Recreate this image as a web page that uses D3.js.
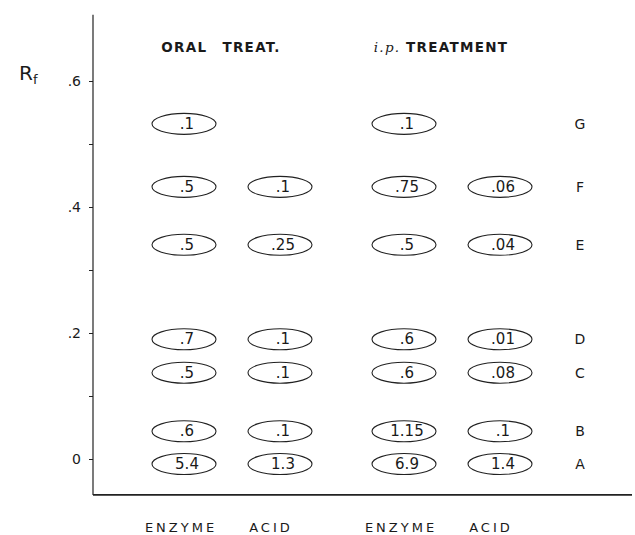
<html>
  <head>
    <script src="https://d3js.org/d3.v7.min.js"></script>
    <style>
      body { margin: 0; background: white; }
      text { font-family: "DejaVu Sans", sans-serif; fill: #1a1a1a; }
    </style>
  </head>
  <body>
    <svg id="chart" width="635" height="535"></svg>
    <script>
      // data
      const groups = ["ORAL TREAT.", "i.p. TREATMENT"];
      const methods = ["ENZYME", "ACID"];
      const rows = ["A", "B", "C", "D", "E", "F", "G"];
      const rowRf = [-0.008, 0.044, 0.137, 0.19, 0.34, 0.432, 0.532];
      const oralEnzyme = ["5.4", ".6", ".5", ".7", ".5", ".5", ".1"];
      const oralAcid = ["1.3", ".1", ".1", ".1", ".25", ".1", null];
      const ipEnzyme = ["6.9", "1.15", ".6", ".6", ".5", ".75", ".1"];
      const ipAcid = ["1.4", ".1", ".08", ".01", ".04", ".06", null];
      const tickVals = [0, 0.1, 0.2, 0.3, 0.4, 0.5, 0.6];
      const axisRange = [-0.057, 0.705];

      const svg = d3.select("#chart");

      const y = d3.scaleLinear().domain([0, 0.6]).range([459, 81]);
      const gx = d3.scaleBand().domain(groups).range([122, 562]);
      const mx = d3.scalePoint().domain(methods).range([62, 158]);
      const colX = (g, m) => gx(g) + mx(m);

      const columns = [
        { g: groups[0], m: "ENZYME", vals: oralEnzyme },
        { g: groups[0], m: "ACID", vals: oralAcid },
        { g: groups[1], m: "ENZYME", vals: ipEnzyme },
        { g: groups[1], m: "ACID", vals: ipAcid },
      ];

      // axes
      const axisX = 93;
      const yAxis = svg.append("g")
        .attr("transform", "translate(" + axisX + ",0)")
        .call(d3.axisLeft(y).tickValues(tickVals).tickSize(4).tickPadding(8)
          .tickFormat((d) => (Math.round(d * 10) % 2 === 0 ? (d === 0 ? "0" : "." + Math.round(d * 10)) : "")));
      yAxis.select(".domain").remove();
      yAxis.selectAll("text")
        .style("font-family", "DejaVu Sans")
        .style("font-size", "14px")
        .attr("fill", "#1a1a1a");
      yAxis.selectAll("line").attr("stroke", "#222");

      svg.append("line")
        .attr("x1", axisX).attr("x2", axisX)
        .attr("y1", y(axisRange[0])).attr("y2", y(axisRange[1]))
        .attr("stroke", "#222").attr("stroke-width", 1.2);
      svg.append("line")
        .attr("x1", axisX).attr("x2", 632)
        .attr("y1", y(axisRange[0])).attr("y2", y(axisRange[0]))
        .attr("stroke", "#222").attr("stroke-width", 1.6);

      // Rf label
      const rf = svg.append("text").attr("x", 19).attr("y", 80)
        .style("font-size", "20px");
      rf.append("tspan").text("R");
      rf.append("tspan").attr("dy", 4).style("font-size", "13px").text("f");

      // group titles
      svg.selectAll("text.title")
        .data(groups)
        .join("text")
        .attr("class", "title")
        .attr("x", (d) => gx(d) + gx.bandwidth() / 2 - 11)
        .attr("y", 52)
        .attr("text-anchor", "middle")
        .style("font-size", "13.5px")
        .style("font-weight", "bold")
        .style("letter-spacing", "1.3px")
        .style("word-spacing", "9px")
        .each(function (d) {
          const t = d3.select(this);
          if (d.startsWith("i.p.")) {
            t.style("word-spacing", "0px");
            t.append("tspan").style("font-style", "italic").style("font-weight", "normal")
              .style("font-family", "DejaVu Serif").text("i.p. ");
            t.append("tspan").text(d.slice(5));
          } else {
            t.text(d);
          }
        });

      // spots
      const spots = [];
      columns.forEach((c) => {
        c.vals.forEach((v, i) => {
          if (v !== null) spots.push({ x: colX(c.g, c.m), rf: rowRf[i], v: v });
        });
      });

      const sg = svg.selectAll("g.spot")
        .data(spots)
        .join("g")
        .attr("class", "spot")
        .attr("transform", (d) => "translate(" + d.x + "," + y(d.rf) + ")");
      sg.append("ellipse")
        .attr("rx", 32).attr("ry", 10.5)
        .attr("fill", "none")
        .attr("stroke", "#222")
        .attr("stroke-width", 1.1);
      sg.append("text")
        .attr("x", 3)
        .attr("y", 5)
        .attr("text-anchor", "middle")
        .style("font-size", "15px")
        .text((d) => d.v);

      // row letters
      svg.selectAll("text.row")
        .data(rows)
        .join("text")
        .attr("class", "row")
        .attr("x", 580)
        .attr("y", (d, i) => y(rowRf[i]) + 5)
        .attr("text-anchor", "middle")
        .style("font-size", "14px")
        .text((d) => d);

      // column labels at the bottom
      svg.selectAll("text.col")
        .data(columns)
        .join("text")
        .attr("class", "col")
        .attr("x", (d) => colX(d.g, d.m) - (d.m === "ACID" ? 9 : 3))
        .attr("y", 532)
        .attr("text-anchor", "middle")
        .style("font-size", "13px")
        .style("letter-spacing", "3px")
        .text((d) => d.m);
    </script>
  </body>
</html>
